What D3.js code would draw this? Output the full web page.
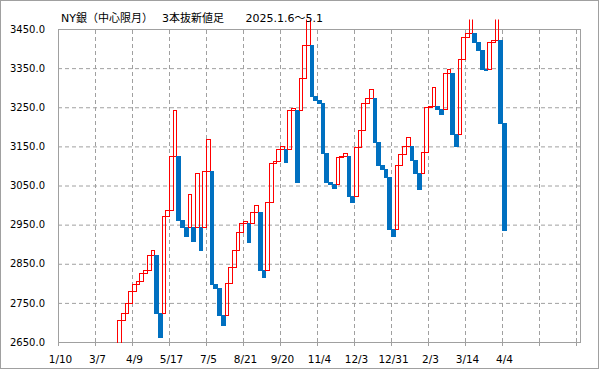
<!DOCTYPE html>
<html>
<head>
<meta charset="utf-8">
<script src="https://cdn.jsdelivr.net/npm/d3@7"></script>
<style>
  body { margin: 0; background: #fff; }
  svg { display: block; }
  text { font-family: "DejaVu Sans", "Noto Sans CJK JP", sans-serif; fill: #000; }
</style>
</head>
<body>
<div id="chart"></div>
<script>
// title pieces
var titleParts = ["NY銀（中心限月）", "3本抜新値足", "2025.1.6～5.1"];

// date label under every 10th line
var tickLabels = ["1/10", "3/7", "4/9", "5/17", "7/5", "8/21", "9/20", "11/4",
                  "12/3", "12/31", "2/3", "3/14", "4/4", "", ""];
var yTicks = [2650, 2750, 2850, 2950, 3050, 3150, 3250, 3350, 3450];

// first visible line number, and where it starts (below the chart)
var firstLine = 16;
var startOpen = 2620;

// close of each line, line 16 .. 120
var closes = [2706, 2724, 2750, 2780, 2798, 2806, 2826, 2834, 2873, 2885,
  2724, 2664, 2971, 2988, 3126, 3244, 2961, 2944, 2922, 3028,
  2907, 3082, 2886, 3086, 3169, 2798, 2787, 2720, 2694, 2801,
  2842, 2884, 2930, 2954, 2960, 2905, 2982, 3000, 2833, 2815,
  3009, 3107, 3112, 3143, 3152, 3109, 3244, 3247, 3060, 3325,
  3410, 3480, 3278, 3268, 3261, 3133, 3060, 3054, 3043, 3124,
  3126, 3133, 3022, 3009, 3148, 3193, 3261, 3274, 3297, 3160,
  3102, 3092, 3073, 2940, 2921, 3102, 3130, 3152, 3174, 3116,
  3083, 3041, 3136, 3251, 3254, 3302, 3245, 3233, 3338, 3348,
  3182, 3150, 3373, 3430, 3441, 3480, 3418, 3397, 3348, 3344,
  3418, 3421, 3480, 3211, 2937];

// build lines: an up line starts at the previous high, a down line at the previous low
var lines = [];
var prevOpen = null, prevClose = null;
closes.forEach(function(c, i) {
  var open;
  if (i == 0) open = startOpen;
  else if (c > prevClose) open = Math.max(prevOpen, prevClose);
  else open = Math.min(prevOpen, prevClose);
  lines.push({ n: firstLine + i, open: open, close: c, up: c > open });
  prevOpen = open; prevClose = c;
});

var W = 599, H = 369;
var margin = {top: 29, right: 19, bottom: 27, left: 58},
    width = W - margin.left - margin.right,
    height = H - margin.top - margin.bottom;

var svg = d3.select("#chart").append("svg")
  .attr("width", W).attr("height", H);

// outer frame
svg.append("rect")
  .attr("x", 0.5).attr("y", 0.5)
  .attr("width", W - 1).attr("height", H - 1)
  .attr("fill", "#fff").attr("stroke", "#a0a0a0");

var g = svg.append("g")
  .attr("transform", "translate(" + margin.left + "," + margin.top + ")");

var x = d3.scaleLinear().domain([0, 140]).range([0, 518]);
var y = d3.scaleLinear().domain([2650, 3450]).range([height, 0]);

// horizontal grid
g.append("g")
  .call(d3.axisLeft(y).tickValues(yTicks.slice(1, -1)).tickSize(-width).tickFormat(""))
  .call(function(s) {
    s.select(".domain").remove();
    s.selectAll("line").attr("stroke", "#a0a0a0").attr("stroke-dasharray", "4,3");
  });

// vertical grid
g.append("g")
  .attr("transform", "translate(0," + height + ")")
  .call(d3.axisBottom(x).tickValues(d3.range(10, 141, 10)).tickSize(height).tickFormat(""))
  .call(function(s) {
    s.select(".domain").remove();
    s.selectAll("line").attr("y2", -height).attr("stroke", "#a0a0a0").attr("stroke-dasharray", "4,3");
  });

// plot border
g.append("rect")
  .attr("x", 0.5).attr("y", 0.5)
  .attr("width", width).attr("height", height)
  .attr("fill", "none").attr("stroke", "#a0a0a0");

// y labels
g.append("g")
  .call(d3.axisLeft(y).tickValues(yTicks).tickSize(0).tickPadding(13).tickFormat(d3.format(".1f")))
  .call(function(s) {
    s.select(".domain").remove();
    s.selectAll("text").attr("font-size", "10px").attr("font-family", null);
  });

// x axis ticks and labels
g.append("g")
  .attr("transform", "translate(0," + height + ")")
  .call(d3.axisBottom(x).tickValues(d3.range(0, 141, 10)).tickSize(4).tickPadding(10)
    .tickFormat(function(d, i) { return tickLabels[i]; }))
  .call(function(s) {
    s.select(".domain").remove();
    s.selectAll("line").attr("stroke", "#a0a0a0");
    s.selectAll("text").attr("font-size", "10.5px").attr("font-family", null).attr("dx", 2);
  });

// clip: bottom of the plot, a little room above the top
g.append("clipPath").attr("id", "clip")
  .append("rect")
  .attr("x", 0).attr("y", y(3474))
  .attr("width", width + 1).attr("height", height + 1 - y(3474));

var px = function(v) { return Math.round(v) + 0.5; };

g.append("g").attr("clip-path", "url(#clip)")
  .selectAll("rect")
  .data(lines)
  .enter()
  .append("rect")
    .attr("x", function(d) { return px(x(d.n)); })
    .attr("width", function(d) { return Math.round(x(d.n + 1)) - Math.round(x(d.n)); })
    .attr("y", function(d) { return px(y(Math.max(d.open, d.close))); })
    .attr("height", function(d) { return Math.round(y(Math.min(d.open, d.close))) - Math.round(y(Math.max(d.open, d.close))); })
    .attr("fill", function(d) { return d.up ? "none" : "#0070c0"; })
    .attr("stroke", function(d) { return d.up ? "#ff0000" : "#0070c0"; })
    .attr("stroke-width", 1);

// title
var titleX = [61, 162, 245.5];
svg.selectAll(".title")
  .data(titleParts)
  .enter()
  .append("text")
  .attr("class", "title")
  .attr("x", function(d, i) { return titleX[i]; })
  .attr("y", 21.5)
  .attr("font-size", "11px")
  .text(function(d) { return d; });
</script>
</body>
</html>
